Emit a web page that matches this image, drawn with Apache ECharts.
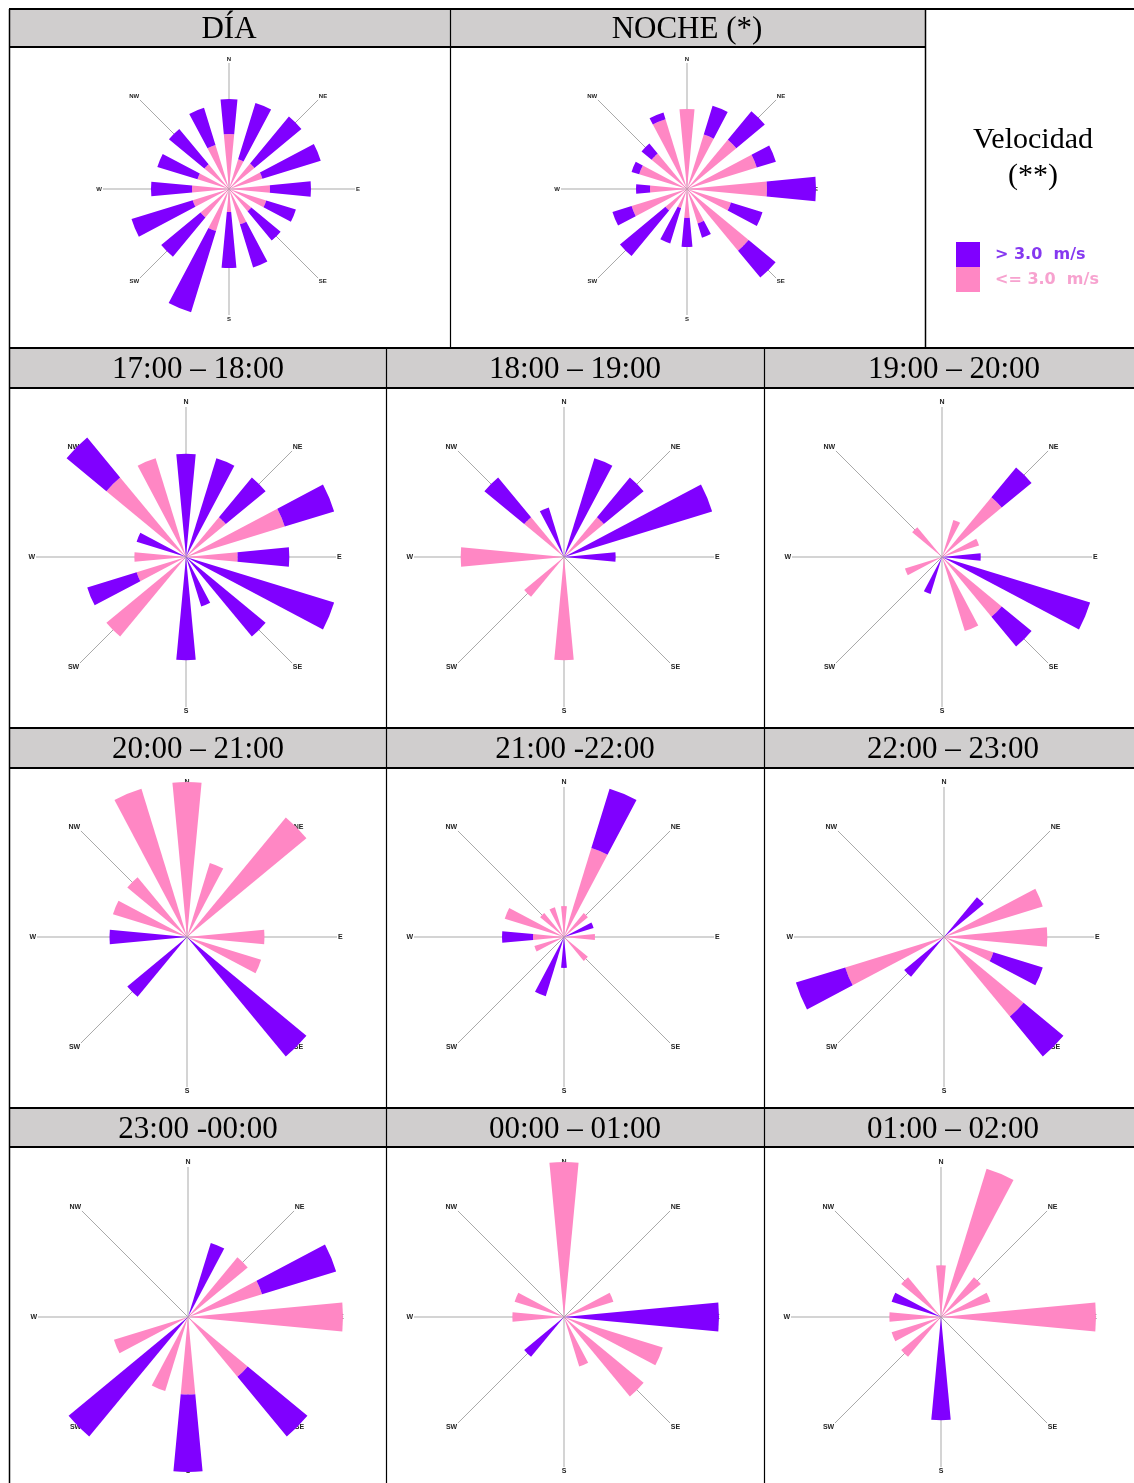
<!DOCTYPE html>
<html>
<head>
<meta charset="utf-8">
<title>Rosas de viento</title>
<script src="https://cdn.jsdelivr.net/npm/echarts@6/dist/echarts.min.js"></script>
<style>
  html, body { margin: 0; padding: 0; background: #fff; }
  #chart { width: 1134px; height: 1483px; }
</style>
</head>
<body>
<div id="chart"></div>
<script>
// 16 sectores de dirección
const directions = ['N', 'NNE', 'NE', 'ENE', 'E', 'ESE', 'SE', 'SSE', 'S', 'SSW', 'SW', 'WSW', 'W', 'WNW', 'NW', 'NNW'];
const compassLabels = ['N', 'NE', 'E', 'SE', 'S', 'SW', 'W', 'NW'];

const LOW_NAME = '<= 3.0  m/s';
const HIGH_NAME = '> 3.0  m/s';

// DÍA / NOCHE: frecuencia relativa estimada
const diaLow = [55, 31, 33, 35, 41, 39, 29, 37, 23, 44, 37, 38, 37, 33, 32, 46];
const diaHigh = [35, 59, 61, 61, 41, 31, 38, 45, 56, 85, 51, 64, 41, 42, 46, 39];
const nocheLow = [80, 57, 64, 73, 80, 46, 80, 36, 29, 20, 28, 58, 37, 50, 46, 73];
const nocheHigh = [0, 30, 37, 20, 49, 33, 35, 15, 29, 37, 59, 20, 14, 8, 13, 7];

// horarias: número de registros
const h17Low = [0, 0, 1, 2, 1, 0, 0, 0, 0, 0, 2, 1, 1, 0, 2, 2];
const h17High = [2, 2, 1, 1, 1, 3, 2, 1, 2, 0, 0, 1, 0, 1, 1, 0];
const h18Low = [0, 0, 1, 0, 0, 0, 0, 0, 2, 0, 1, 0, 2, 0, 1, 0];
const h18High = [0, 2, 1, 3, 1, 0, 0, 0, 0, 0, 0, 0, 0, 0, 1, 1];
const h19Low = [0, 1, 2, 1, 0, 0, 2, 2, 0, 0, 0, 1, 0, 0, 1, 0];
const h19High = [0, 0, 1, 0, 1, 4, 1, 0, 0, 1, 0, 0, 0, 0, 0, 0];
const h20Low = [2, 1, 2, 0, 1, 1, 0, 0, 0, 0, 0, 0, 0, 1, 1, 2];
const h20High = [0, 0, 0, 0, 0, 0, 2, 0, 0, 0, 1, 0, 1, 0, 0, 0];
const h21Low = [1, 3, 1, 0, 1, 0, 1, 0, 0, 0, 0, 1, 1, 2, 1, 1];
const h21High = [0, 2, 0, 1, 0, 0, 0, 0, 1, 2, 0, 0, 1, 0, 0, 0];
const h22Low = [0, 0, 0, 2, 2, 1, 2, 0, 0, 0, 0, 2, 0, 0, 0, 0];
const h22High = [0, 0, 1, 0, 0, 1, 1, 0, 0, 0, 1, 1, 0, 0, 0, 0];
const h23Low = [0, 0, 1, 1, 2, 0, 1, 0, 1, 1, 0, 1, 0, 0, 0, 0];
const h23High = [0, 1, 0, 1, 0, 0, 1, 0, 1, 0, 2, 0, 0, 0, 0, 0];
const h00Low = [3, 0, 0, 1, 0, 2, 2, 1, 0, 0, 0, 0, 1, 1, 0, 0];
const h00High = [0, 0, 0, 0, 3, 0, 0, 0, 0, 0, 1, 0, 0, 0, 0, 0];
const h01Low = [1, 3, 1, 1, 3, 0, 0, 0, 0, 0, 1, 1, 1, 0, 1, 0];
const h01High = [0, 0, 0, 0, 0, 0, 0, 0, 2, 0, 0, 0, 0, 1, 0, 0];

const PINK = '#ff87c4';
const PURPLE = '#8000ff';
const HEADER_BG = '#d0cece';

const big = { lineR: 126, barR: 129, font: 6 };
const small = { lineR: 150, barR: 155, font: 7 };

const panels = [
  { title: 'DÍA', center: [229, 189], titleX: 229, titleY: 30, low: diaLow, high: diaHigh, ...big },
  { title: 'NOCHE (*)', center: [687, 189], titleX: 687, titleY: 30, low: nocheLow, high: nocheHigh, ...big },
  { title: '17:00 – 18:00', center: [186, 557], titleX: 198, titleY: 370, low: h17Low, high: h17High, ...small },
  { title: '18:00 – 19:00', center: [564, 557], titleX: 575, titleY: 370, low: h18Low, high: h18High, ...small },
  { title: '19:00 – 20:00', center: [942, 557], titleX: 954, titleY: 370, low: h19Low, high: h19High, ...small },
  { title: '20:00 – 21:00', center: [187, 937], titleX: 198, titleY: 750, low: h20Low, high: h20High, ...small },
  { title: '21:00 -22:00', center: [564, 937], titleX: 575, titleY: 750, low: h21Low, high: h21High, ...small },
  { title: '22:00 – 23:00', center: [944, 937], titleX: 953, titleY: 750, low: h22Low, high: h22High, ...small },
  { title: '23:00 -00:00', center: [188, 1317], titleX: 198, titleY: 1130, low: h23Low, high: h23High, ...small },
  { title: '00:00 – 01:00', center: [564, 1317], titleX: 575, titleY: 1130, low: h00Low, high: h00High, ...small },
  { title: '01:00 – 02:00', center: [941, 1317], titleX: 953, titleY: 1130, low: h01Low, high: h01High, ...small }
];

const polar = [];
const angleAxis = [];
const radiusAxis = [];
const series = [];

panels.forEach((p, i) => {
  const gridIdx = i * 2;
  const barIdx = i * 2 + 1;

  // ejes N/NE/E... con sus etiquetas
  polar.push({ center: p.center, radius: p.lineR });
  angleAxis.push({
    polarIndex: gridIdx,
    type: 'value',
    min: 0,
    max: 360,
    interval: 45,
    startAngle: 90,
    clockwise: true,
    axisLine: { show: false },
    axisTick: { show: false },
    splitLine: { show: true, lineStyle: { color: '#a9a9a9', width: 1 } },
    axisLabel: {
      margin: 1,
      fontSize: p.font,
      fontWeight: 'bold',
      color: '#222',
      fontFamily: 'Liberation Sans',
      formatter: (v) => (v < 360 ? compassLabels[v / 45] : '')
    }
  });
  radiusAxis.push({ polarIndex: gridIdx, min: 0, max: 1, show: false });

  // barras apiladas por sector
  const maxTotal = Math.max(...p.low.map((v, k) => v + p.high[k]));
  polar.push({ center: p.center, radius: p.barR });
  angleAxis.push({
    polarIndex: barIdx,
    type: 'category',
    data: directions,
    startAngle: 101.25,
    clockwise: true,
    show: false
  });
  radiusAxis.push({ polarIndex: barIdx, min: 0, max: maxTotal, show: false });

  series.push({
    type: 'bar',
    name: LOW_NAME,
    coordinateSystem: 'polar',
    polarIndex: barIdx,
    stack: 'rose' + i,
    barCategoryGap: '52%',
    data: p.low,
    itemStyle: { color: PINK },
    silent: true
  });
  series.push({
    type: 'bar',
    name: HIGH_NAME,
    coordinateSystem: 'polar',
    polarIndex: barIdx,
    stack: 'rose' + i,
    barCategoryGap: '52%',
    data: p.high,
    itemStyle: { color: PURPLE },
    silent: true
  });
});

// tabla
const elements = [];
const hline = (y, x1, x2, w) => elements.push({
  type: 'line', shape: { x1, y1: y, x2, y2: y }, style: { stroke: '#000', lineWidth: w }, z: 10
});
const vline = (x, y1, y2, w, c) => elements.push({
  type: 'line', shape: { x1: x, y1, x2: x, y2 }, style: { stroke: c || '#000', lineWidth: w }, z: 10
});
const headerRect = (x, y, w, h) => elements.push({
  type: 'rect', shape: { x, y, width: w, height: h }, style: { fill: HEADER_BG }, z: 1
});

headerRect(9, 9, 916, 38);
headerRect(9, 348, 1125, 40);
headerRect(9, 728, 1125, 40);
headerRect(9, 1108, 1125, 39);

hline(9, 9, 1134, 2);
hline(47, 9, 925, 2);
[348, 388, 728, 768, 1108, 1147].forEach((y) => hline(y, 9, 1134, 2));
vline(9.5, 9, 1483, 1.5);
vline(450.5, 9, 348, 1.2);
vline(925.5, 9, 348, 1.5);
vline(386.5, 348, 1483, 1.2);
vline(764.5, 348, 1483, 1.2);

panels.forEach((p) => {
  elements.push({
    type: 'text',
    x: p.titleX,
    y: p.titleY,
    style: {
      text: p.title,
      fill: '#000',
      font: '31px "Liberation Serif"',
      textAlign: 'center',
      textVerticalAlign: 'middle'
    },
    z: 11
  });
});

elements.push({
  type: 'text', x: 1033, y: 140,
  style: { text: 'Velocidad', fill: '#000', font: '30px "Liberation Serif"', textAlign: 'center', textVerticalAlign: 'middle' },
  z: 11
});
elements.push({
  type: 'text', x: 1033, y: 176,
  style: { text: '(**)', fill: '#000', font: '30px "Liberation Serif"', textAlign: 'center', textVerticalAlign: 'middle' },
  z: 11
});

const chart = echarts.init(document.getElementById('chart'));
chart.setOption({
  backgroundColor: '#fff',
  animation: false,
  legend: {
    orient: 'vertical',
    left: 956,
    top: 242,
    padding: 0,
    itemWidth: 24,
    itemHeight: 25,
    itemGap: 0,
    icon: 'rect',
    selectedMode: false,
    data: [
      { name: HIGH_NAME, textStyle: { color: '#8538f0' } },
      { name: LOW_NAME, textStyle: { color: '#f7a2cf' } }
    ],
    textStyle: {
      fontSize: 16,
      fontWeight: 'bold',
      fontFamily: 'DejaVu Sans',
      padding: [2, 0, 0, 10]
    }
  },
  polar,
  angleAxis,
  radiusAxis,
  series,
  graphic: { elements }
});
</script>
</body>
</html>
